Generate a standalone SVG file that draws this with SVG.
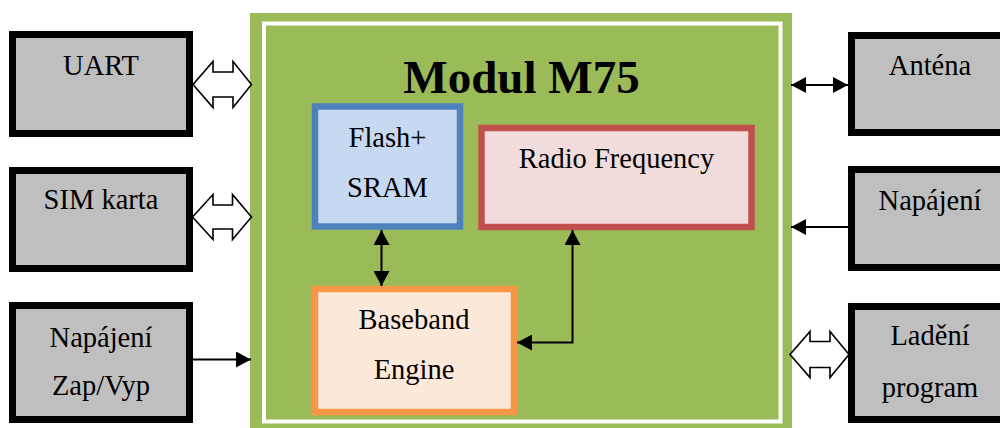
<svg xmlns="http://www.w3.org/2000/svg" width="1000" height="428" viewBox="0 0 1000 428">
<style>
text{font-family:"Liberation Serif","Times New Roman",serif;fill:#000;text-anchor:middle}
.t{font-size:28.5px}
.gray{fill:#BFBFBF;stroke:#000;stroke-width:7}
.ln{stroke:#000;stroke-width:2;fill:none}
.blk{fill:#fff;stroke:#000;stroke-width:1.6;stroke-linejoin:miter}
</style>
<defs>
<marker id="ah" viewBox="0 0 15 16" refX="15" refY="8" markerWidth="15" markerHeight="16" markerUnits="userSpaceOnUse" orient="auto-start-reverse">
<path d="M0,0 L15,8 L0,16 z" fill="#000"/>
</marker>
</defs>
<rect width="1000" height="428" fill="#fff"/>
<g id="modul">
<rect x="250" y="13" width="542" height="430" fill="#9BBB59"/>
<rect x="264" y="23.5" width="516.5" height="398" fill="none" stroke="#fff" stroke-width="4"/>
<text x="521.5" y="93" style="font-size:47px;font-weight:bold">Modul M75</text>
</g>
<g id="flash">
<rect x="315" y="106.5" width="145" height="120" fill="#C6D9F1" stroke="#4F81BD" stroke-width="6.5"/>
<text class="t" x="387.5" y="147">Flash+</text>
<text class="t" x="387.5" y="197">SRAM</text>
</g>
<g id="radio">
<rect x="481.5" y="128" width="270" height="99" fill="#F2DCDB" stroke="#C0504D" stroke-width="6.5"/>
<text class="t" x="616.5" y="168">Radio Frequency</text>
</g>
<g id="baseband">
<rect x="315" y="289" width="199" height="123" fill="#FDE9D9" stroke="#F79646" stroke-width="6.5"/>
<text class="t" x="414" y="329">Baseband</text>
<text class="t" x="414" y="379">Engine</text>
</g>
<g id="uart">
<rect class="gray" x="12.5" y="34.5" width="177" height="99"/>
<text class="t" x="101" y="75">UART</text>
</g>
<g id="sim">
<rect class="gray" x="12.5" y="170.5" width="177" height="98"/>
<text class="t" x="101" y="209">SIM karta</text>
</g>
<g id="zapvyp">
<rect class="gray" x="12.5" y="305.5" width="177" height="114"/>
<text class="t" x="101" y="346.5">Napájení</text>
<text class="t" x="101" y="395">Zap/Vyp</text>
</g>
<g id="antena">
<rect class="gray" x="851.5" y="35.5" width="177" height="97"/>
<text class="t" x="930" y="75">Anténa</text>
</g>
<g id="napajeni">
<rect class="gray" x="851.5" y="169.5" width="177" height="98"/>
<text class="t" x="930" y="210">Napájení</text>
</g>
<g id="ladeni">
<rect class="gray" x="851.5" y="306.5" width="177" height="113"/>
<text class="t" x="930" y="345">Ladění</text>
<text class="t" x="930" y="396.5">program</text>
</g>
<g id="connectors">
<polygon class="blk" points="193,84.5 213,61.5 213,72 233,72 233,61.5 251.5,84.5 233,107.5 233,97 213,97 213,107.5"/>
<polygon class="blk" points="192.5,217 213,194.5 213,205 232.5,205 232.5,194.5 251.5,217 232.5,239.5 232.5,229 213,229 213,239.5"/>
<polygon class="blk" points="790,354.5 810,331.5 810,341.5 830,341.5 830,331.5 849,354.5 830,377.5 830,367.5 810,367.5 810,377.5"/>
<line class="ln" x1="193" y1="359.5" x2="251" y2="359.5" marker-end="url(#ah)"/>
<line class="ln" x1="791" y1="85" x2="848" y2="85" marker-start="url(#ah)" marker-end="url(#ah)"/>
<line class="ln" x1="848" y1="227" x2="791" y2="227" marker-end="url(#ah)"/>
<line class="ln" x1="381.5" y1="230" x2="381.5" y2="286" marker-start="url(#ah)" marker-end="url(#ah)"/>
<polyline class="ln" points="572.5,230 572.5,342.5 517,342.5" marker-start="url(#ah)" marker-end="url(#ah)"/>
</g>
</svg>
